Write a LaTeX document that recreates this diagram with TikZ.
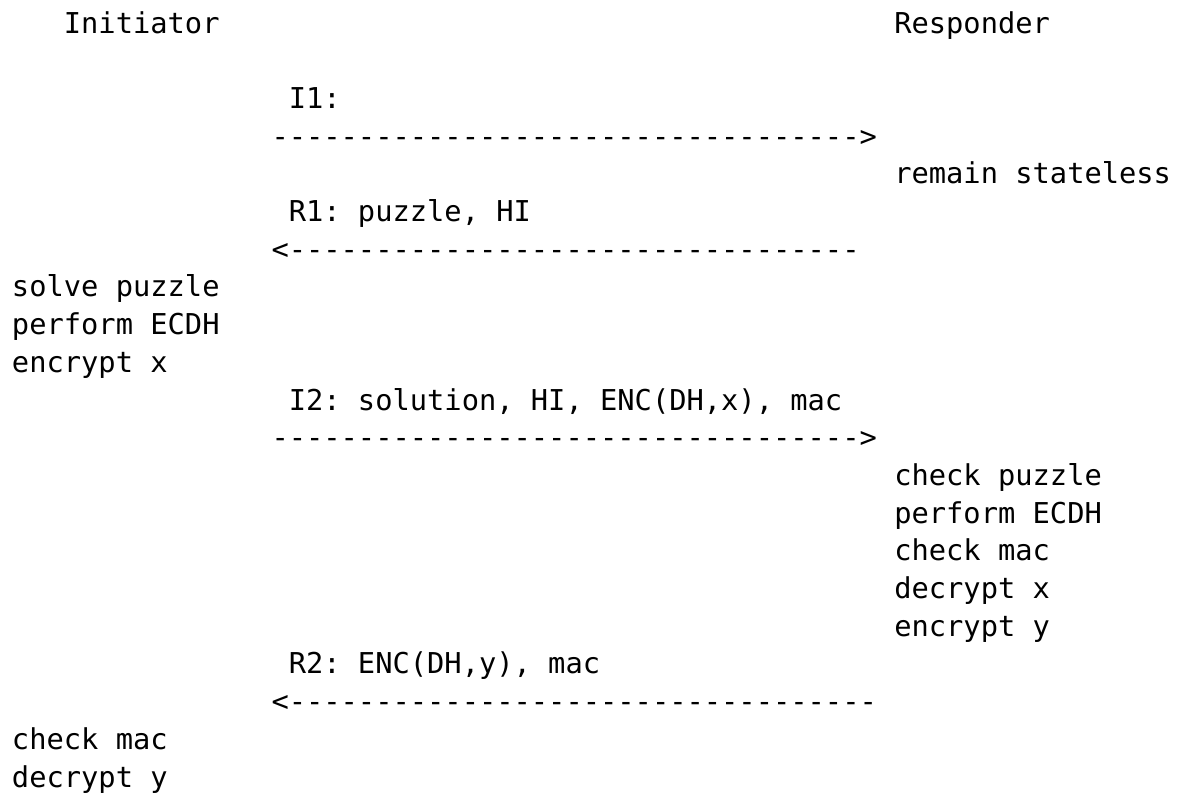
\documentclass[tikz,border=0pt]{standalone}
\usepackage{fontspec}
\setmonofont{DejaVu Sans Mono}
\usepackage{tikz}

\newcommand\dashrun[1]{\foreach \k in {1,...,#1}{-}}

\tikzset{
  ascii/.style={anchor=base west, inner sep=0pt, outer sep=0pt,
    font=\ttfamily\fontsize{28.73}{34}\selectfont},
}

\begin{document}
\begin{tikzpicture}[x=1pt, y=-1pt]
\useasboundingbox (0,0) rectangle (1191,795);
% one text line per row: x = 12 + 17.3*col, y = 33 + 37.7*row
\foreach \col/\row/\name/\txt in {
  3/0/init/{Initiator},
  51/0/resp/{Responder},
  16/2/msgone/{I1:},
  15/3/arrone/{\dashrun{34}>},
  51/4/stateless/{remain stateless},
  16/5/msgtwo/{R1: puzzle, HI},
  15/6/arrtwo/{<\dashrun{33}},
  0/7/solve/{solve puzzle},
  0/8/ecdhi/{perform ECDH},
  0/9/encx/{encrypt x},
  16/10/msgthree/{I2: solution, HI, ENC(DH,x), mac},
  15/11/arrthree/{\dashrun{34}>},
  51/12/chkpuzzle/{check puzzle},
  51/13/ecdhr/{perform ECDH},
  51/14/chkmacr/{check mac},
  51/15/decx/{decrypt x},
  51/16/ency/{encrypt y},
  16/17/msgfour/{R2: ENC(DH,y), mac},
  15/18/arrfour/{<\dashrun{34}},
  0/19/chkmaci/{check mac},
  0/20/decy/{decrypt y}
}{
  \node[ascii] (\name) at ({12+17.3*\col}, {33+37.7*\row}) {\txt};
}
\end{tikzpicture}
\end{document}
